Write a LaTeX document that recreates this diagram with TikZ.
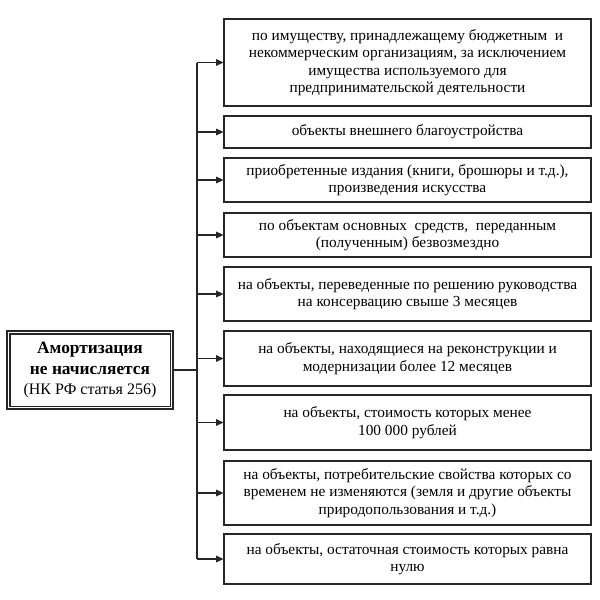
\documentclass[tikz,border=0pt]{standalone}
\usepackage{fontspec}
\setmainfont{Liberation Serif}
\usetikzlibrary{arrows.meta}
\def\upx{0.75pt}
\tikzset{
  box/.style={draw=black!85, line width=0.8pt, minimum width=367*\upx, align=center,
    font=\fontsize{11.5pt}{13pt}\selectfont, inner sep=0pt, fill=white},
  mainbox/.style={draw=black!85, line width=0.8pt,
    minimum width=166*\upx, minimum height=78*\upx, align=center, inner sep=0pt,
    font=\fontsize{13pt}{15.5pt}\selectfont},
  inner/.style={draw=black!85, line width=0.8pt},
  link/.style={draw=black!85, line width=0.8pt},
  arr/.style={link, -{Triangle[length=5.5pt,width=5pt]}}
}
\begin{document}
\begin{tikzpicture}[x=0.75pt,y=-0.75pt]
\useasboundingbox (0,0) rectangle (600,600);
\node[box, minimum height=87*\upx] (b1) at (407.5,62.5) {по имуществу, принадлежащему бюджетным\ \ и\\некоммерческим организациям, за исключением\\имущества используемого для\\предпринимательской деятельности};
\node[box, minimum height=32*\upx] (b2) at (407.5,132) {объекты внешнего благоустройства};
\node[box, minimum height=44*\upx] (b3) at (407.5,180) {приобретенные издания (книги, брошюры и т.д.),\\произведения искусства};
\node[box, minimum height=44*\upx] (b4) at (407.5,235) {по объектам основных\ \ средств,\ \ переданным\\(полученным) безвозмездно};
\node[box, minimum height=54*\upx] (b5) at (407.5,294) {на объекты, переведенные по решению руководства\\на консервацию свыше 3 месяцев};
\node[box, minimum height=55*\upx] (b6) at (407.5,358.5) {на объекты, находящиеся на реконструкции и\\модернизации более 12 месяцев};
\node[box, minimum height=55*\upx] (b7) at (407.5,422.5) {на объекты, стоимость которых менее\\100 000 рублей};
\node[box, minimum height=64*\upx] (b8) at (407.5,493) {на объекты, потребительские свойства которых со\\временем не изменяются\ (земля и другие объекты\\природопользования и т.д.)};
\node[box, minimum height=50*\upx] (b9) at (407.5,559) {на объекты, остаточная\ стоимость которых равна\\нулю};
\node[mainbox] (m) at (90,370) {\textbf{Амортизация}\\\textbf{не начисляется}\\{\fontsize{12pt}{15.5pt}\selectfont (НК РФ статья 256)}};
\draw[inner] ([shift={(3.5*\upx,-3.5*\upx)}]m.north west) rectangle ([shift={(-3.5*\upx,3.5*\upx)}]m.south east);
\coordinate (tr) at (197,0);
\draw[link] (tr |- b1.west) -- (tr |- b9.west);
\draw[link] (m.east) -- (tr |- m.east);
\foreach \b in {b1,b2,b3,b4,b5,b6,b7,b8,b9}
  \draw[arr] (tr |- \b.west) -- (\b.west);
\end{tikzpicture}
\end{document}
